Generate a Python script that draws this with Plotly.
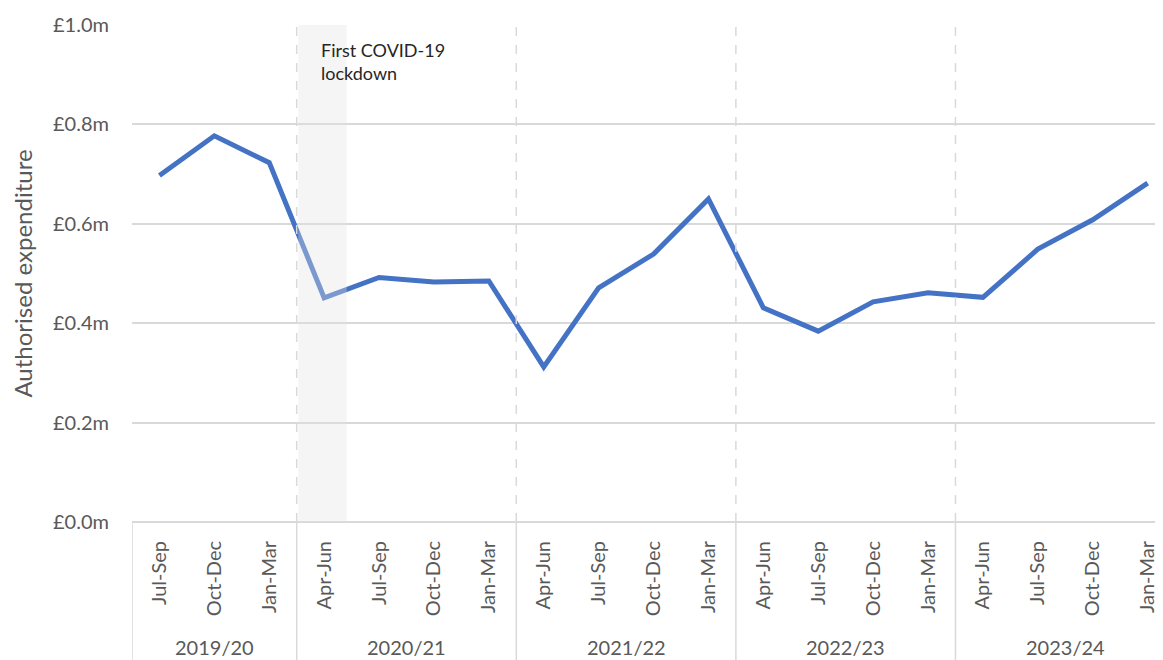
import plotly.graph_objects as go

# quarters and financial years
years = ["2019/20", "2020/21", "2021/22", "2022/23", "2023/24"]
quarters = [
    "Jul-Sep", "Oct-Dec", "Jan-Mar",
    "Apr-Jun", "Jul-Sep", "Oct-Dec", "Jan-Mar",
    "Apr-Jun", "Jul-Sep", "Oct-Dec", "Jan-Mar",
    "Apr-Jun", "Jul-Sep", "Oct-Dec", "Jan-Mar",
    "Apr-Jun", "Jul-Sep", "Oct-Dec", "Jan-Mar",
]
quarter_year = [0, 0, 0, 1, 1, 1, 1, 2, 2, 2, 2, 3, 3, 3, 3, 4, 4, 4, 4]

# authorised expenditure, £m
spend = [0.697, 0.777, 0.723, 0.451, 0.492, 0.483, 0.485, 0.312, 0.471,
         0.539, 0.650, 0.431, 0.384, 0.443, 0.461, 0.452, 0.549, 0.608, 0.682]
y_ticks = [0, 0.2, 0.4, 0.6, 0.8, 1.0]

FONT = "Lato, 'Open Sans', sans-serif"
GREY = "#595959"
GRID = "#d9d9d9"

x = list(range(len(quarters)))

fig = go.Figure()
fig.add_trace(go.Scatter(
    x=x, y=spend, mode="lines",
    line=dict(color="#4472C4", width=5),
    hoverinfo="skip", showlegend=False,
))

# year boundaries and year labels
bounds = [i - 0.5 for i in range(1, len(quarters)) if quarter_year[i] != quarter_year[i - 1]]
edges = [-0.5] + bounds + [len(quarters) - 0.5]

shapes = []
# lockdown shading (Apr-Jun 2020)
shapes.append(dict(type="rect", xref="x", yref="paper", x0=2.53, x1=3.41, y0=0, y1=1,
                   fillcolor="rgba(225,225,225,0.35)", line_width=0, layer="above"))
for b in bounds:
    shapes.append(dict(type="line", xref="x", yref="paper", x0=b, x1=b, y0=0, y1=1,
                       line=dict(color=GRID, width=1.5, dash="dash"), layer="above"))
for b in edges[:-1]:
    shapes.append(dict(type="line", xref="x", yref="paper", x0=b, x1=b, y0=0, y1=-0.3,
                       line=dict(color=GRID, width=1.5)))

annotations = []
for k, yr in enumerate(years):
    annotations.append(dict(x=(edges[k] + edges[k + 1]) / 2, y=-0.2515, xref="x", yref="paper",
                            text=yr, showarrow=False, yanchor="middle",
                            font=dict(family=FONT, size=20, color=GREY)))
annotations.append(dict(x=2.9, y=0.975, xref="x", yref="paper", xanchor="left", yanchor="top",
                        align="left", text="First COVID-19<br>lockdown", showarrow=False,
                        font=dict(family=FONT, size=18, color="#262626")))

# the page body has an 8px margin, so the figure is shifted by 8px
fig.update_layout(
    width=1155, height=652,
    margin=dict(l=124, r=0, t=17, b=138),
    paper_bgcolor="white", plot_bgcolor="white",
    font=dict(family=FONT, color=GREY),
    shapes=shapes, annotations=annotations,
    xaxis=dict(
        # the last year runs past the right edge of the picture
        range=[-0.5, 18.28],
        tickvals=x, ticktext=quarters, tickangle=-90,
        tickfont=dict(size=20, color=GREY),
        showgrid=False, zeroline=False, showline=False, ticks="outside",
        ticklen=10, tickcolor="rgba(0,0,0,0)",
        fixedrange=True,
    ),
    yaxis=dict(
        range=[0, 1.0], tickvals=y_ticks,
        ticktext=["£%.1fm" % v for v in y_ticks],
        tickfont=dict(size=20, color=GREY),
        showgrid=True, gridcolor=GRID, gridwidth=1.5,
        zeroline=True, zerolinecolor=GRID, zerolinewidth=1.5,
        ticks="outside", ticklen=18, tickcolor="rgba(0,0,0,0)",
        title=dict(text="Authorised expenditure", font=dict(size=24, color=GREY), standoff=14),
    ),
)

fig.write_html("out.html")
